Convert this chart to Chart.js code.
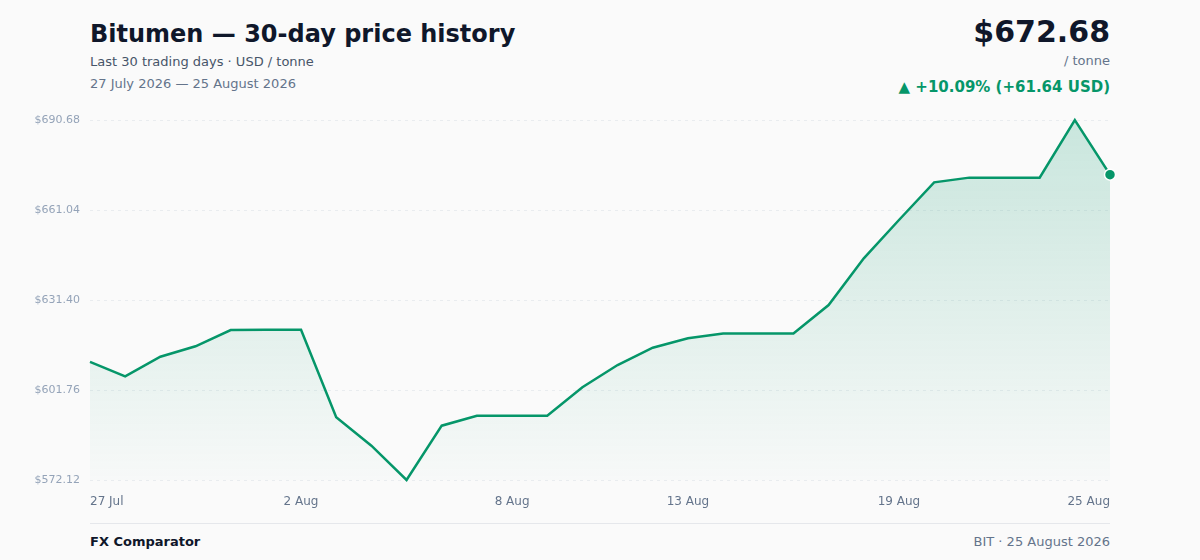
<!DOCTYPE html>
<html>
<head>
<meta charset="utf-8">
<script src="https://cdn.jsdelivr.net/npm/chart.js@4"></script>
<style>
  html, body { margin: 0; padding: 0; background: #fafafa; }
  body { width: 1200px; height: 560px; position: relative; overflow: hidden; font-family: "DejaVu Sans", sans-serif; }
  .t { position: absolute; white-space: nowrap; line-height: 1; }
  #title { left: 90px; top: 22px; font-size: 24px; font-weight: bold; color: #0f172a; }
  #sub { left: 90px; top: 55px; font-size: 13px; color: #475569; }
  #range { left: 90px; top: 77px; font-size: 13px; color: #64748b; }
  #price { right: 90px; top: 17px; font-size: 30px; font-weight: bold; color: #0f172a; }
  #unit { right: 90px; top: 54px; font-size: 13px; color: #64748b; }
  #change { right: 90px; top: 80px; font-size: 15px; font-weight: bold; color: #059669; }
  #rule { position: absolute; left: 90px; width: 1020px; top: 523px; height: 1px; background: #e5e7eb; }
  #brand { left: 90px; top: 535px; font-size: 13px; font-weight: bold; color: #0f172a; }
  #src { right: 90px; top: 535px; font-size: 13px; color: #64748b; }
  #wrap { position: absolute; left: 0; top: 100px; width: 1200px; height: 420px; }
</style>
</head>
<body>
<div class="t" id="title">Bitumen — 30-day price history</div>
<div class="t" id="sub">Last 30 trading days · USD / tonne</div>
<div class="t" id="range">27 July 2026 — 25 August 2026</div>
<div class="t" id="price">$672.68</div>
<div class="t" id="unit">/ tonne</div>
<div class="t" id="change">▲ +10.09% (+61.64 USD)</div>
<div id="wrap"><canvas id="myChart"></canvas></div>
<div id="rule"></div>
<div class="t" id="brand">FX Comparator</div>
<div class="t" id="src">BIT · 25 August 2026</div>

<script>
var days = ['27 Jul', '28 Jul', '29 Jul', '30 Jul', '31 Jul', '1 Aug', '2 Aug', '3 Aug', '4 Aug', '5 Aug',
            '6 Aug', '7 Aug', '8 Aug', '9 Aug', '10 Aug', '11 Aug', '12 Aug', '13 Aug', '14 Aug', '15 Aug',
            '16 Aug', '17 Aug', '18 Aug', '19 Aug', '20 Aug', '21 Aug', '22 Aug', '23 Aug', '24 Aug', '25 Aug'];
var prices = [611.04, 606.27, 612.73, 616.15, 621.52, 621.60, 621.60, 592.77, 583.42, 572.12,
              590.01, 593.30, 593.30, 593.30, 602.65, 609.99, 615.69, 618.79, 620.39, 620.39,
              620.39, 629.75, 645.13, 657.75, 670.16, 671.70, 671.70, 671.70, 690.68, 672.68];
var shownDays = ['27 Jul', '2 Aug', '8 Aug', '13 Aug', '19 Aug', '25 Aug'];
var yTicks = [572.12, 601.76, 631.40, 661.04, 690.68];

var green = '#059669';

function fillGradient(context) {
    var chart = context.chart;
    var area = chart.chartArea;
    if (!area) return 'rgba(5,150,105,0.1)';
    var g = chart.ctx.createLinearGradient(0, area.top, 0, area.bottom);
    g.addColorStop(0, 'rgba(5,150,105,0.20)');
    g.addColorStop(1, 'rgba(5,150,105,0.01)');
    return g;
}

var last = prices.length - 1;

new Chart(document.getElementById('myChart'), {
    type: 'line',
    data: {
        labels: days,
        datasets: [{
            data: prices,
            borderColor: green,
            borderWidth: 2.5,
            backgroundColor: fillGradient,
            fill: 'start',
            tension: 0,
            clip: false,
            pointRadius: function (c) { return c.dataIndex === last ? 5.5 : 0; },
            pointHoverRadius: 0,
            pointBackgroundColor: green,
            pointBorderColor: '#ffffff',
            pointBorderWidth: 1.5
        }]
    },
    options: {
        responsive: true,
        maintainAspectRatio: false,
        animation: false,
        layout: { padding: { top: 20, right: 90, bottom: 0, left: 0 } },
        plugins: { legend: { display: false }, tooltip: { enabled: false } },
        scales: {
            x: {
                grid: { display: false, drawTicks: false },
                border: { display: false },
                afterFit: function (s) { s.height = 40; },
                ticks: {
                    autoSkip: false,
                    maxRotation: 0,
                    align: 'inner',
                    padding: 15,
                    color: '#64748b',
                    font: { family: 'DejaVu Sans', size: 12 },
                    callback: function (v, i) {
                        var d = days[i];
                        return shownDays.indexOf(d) >= 0 ? d : null;
                    }
                }
            },
            y: {
                min: yTicks[0],
                max: yTicks[yTicks.length - 1],
                afterBuildTicks: function (s) {
                    s.ticks = yTicks.map(function (v) { return { value: v }; });
                },
                afterFit: function (s) { s.width = 90; },
                grid: { color: '#e9ecef', lineWidth: 1, drawTicks: false },
                border: { display: false, dash: [3, 4] },
                ticks: {
                    padding: 10,
                    color: '#94a3b8',
                    font: { family: 'DejaVu Sans', size: 11 },
                    callback: function (v) { return '$' + Number(v).toFixed(2); }
                }
            }
        }
    }
});
</script>
</body>
</html>
